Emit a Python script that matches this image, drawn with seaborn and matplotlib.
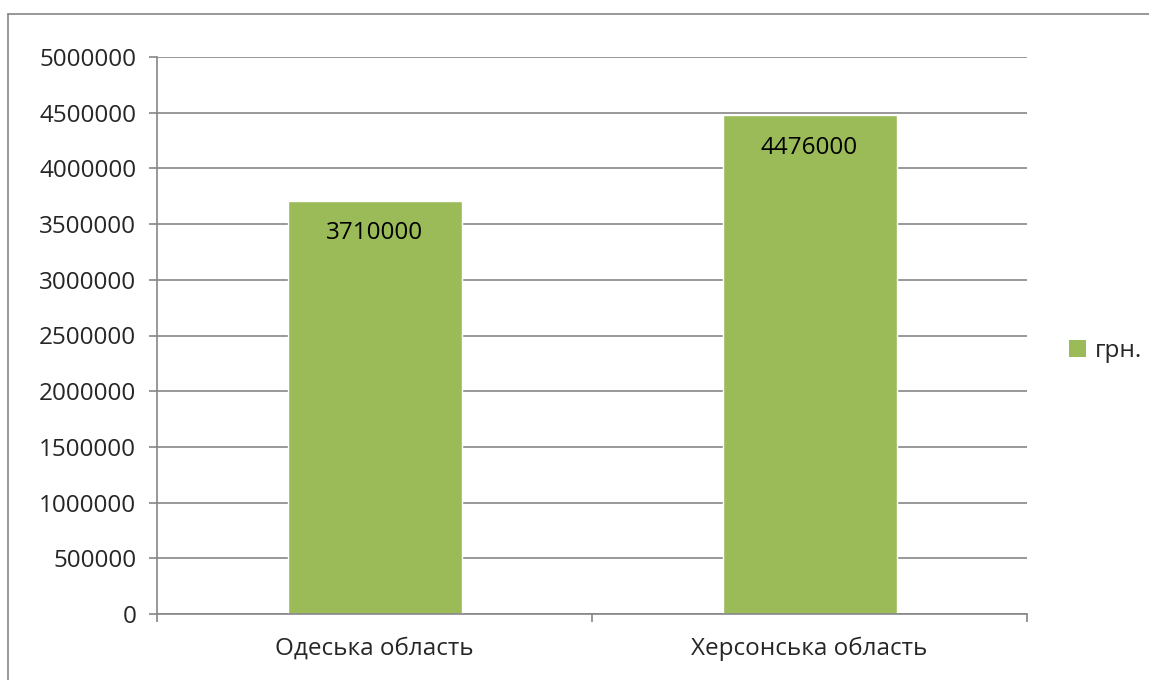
import matplotlib
matplotlib.use("Agg")
import matplotlib.pyplot as plt
import seaborn as sns
import pandas as pd
from matplotlib.lines import Line2D
from matplotlib.patches import Patch

categories = ["Одеська область", "Херсонська область"]
values = [3710000, 4476000]
series_name = "грн."
y_ticks = [0, 500000, 1000000, 1500000, 2000000, 2500000, 3000000, 3500000, 4000000, 4500000, 5000000]

sns.set_theme(style="white")
plt.rcParams['font.family'] = ['Open Sans', 'DejaVu Sans']

GREEN = "#9BBB59"
GRAY = "#868686"

df = pd.DataFrame({"cat": categories, "val": values})

fig = plt.figure(figsize=(11.49, 6.8), dpi=100)
ax = fig.add_axes([157/1149, 1 - 614/680, (1027-157)/1149, (614-57)/680])

sns.barplot(data=df, x="cat", y="val", color=GREEN, width=0.4, ax=ax, saturation=1)

ax.set_xlim(-0.5, 1.5)
ax.set_ylim(0, 5000000)
ax.set_yticks(y_ticks)
ax.set_yticklabels([str(t) for t in y_ticks], fontsize=17.5)
ax.set_xlabel("")
ax.set_ylabel("")
ax.yaxis.grid(True, color=GRAY, linewidth=1.2)
ax.set_axisbelow(True)
for s in ["top", "right"]:
    ax.spines[s].set_visible(False)
for s in ["left", "bottom"]:
    ax.spines[s].set_color(GRAY)
    ax.spines[s].set_linewidth(1.2)

ax.tick_params(axis="y", which="major", direction="out", length=6, width=1.2, color=GRAY, pad=9, left=True)
ax.tick_params(axis="x", which="major", length=0, pad=16, labelsize=17.5)
ax.set_xticks([-0.5, 0.5, 1.5], minor=True)
ax.tick_params(axis="x", which="minor", direction="out", length=6, width=1.2, color=GRAY, bottom=True)

for cont in ax.containers:
    for bar, v in zip(cont, values):
        ax.annotate(str(v), xy=(bar.get_x() + bar.get_width()/2, bar.get_height()),
                    xytext=(0, -23.5), textcoords="offset points",
                    ha="center", va="center", fontsize=17.5, color="black")

handle = Patch(facecolor=GREEN, edgecolor="none")
fig.legend([handle], [series_name], loc="center left", bbox_to_anchor=(1069/1149, 1 - 351/680),
           frameon=False, fontsize=17.5, handlelength=0.7, handleheight=0.7, handletextpad=0.35,
           borderaxespad=0, borderpad=0)

# outer chart border (left and top visible)
fig.add_artist(Line2D([8/1149, 8/1149], [0, 1 - 14/680], transform=fig.transFigure, color=GRAY, linewidth=1.2))
fig.add_artist(Line2D([8/1149, 1], [1 - 14/680, 1 - 14/680], transform=fig.transFigure, color=GRAY, linewidth=1.2))

fig.savefig("out.png", dpi=100)
